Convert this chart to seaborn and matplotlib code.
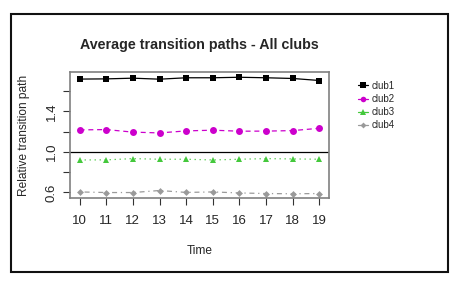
import matplotlib
matplotlib.use("Agg")
import matplotlib.pyplot as plt
import numpy as np
import pandas as pd
import seaborn as sns
from matplotlib.patches import Rectangle

time = [10, 11, 12, 13, 14, 15, 16, 17, 18, 19]
club1 = [1.720, 1.722, 1.729, 1.719, 1.733, 1.733, 1.738, 1.733, 1.726, 1.706]
club2 = [1.218, 1.221, 1.196, 1.188, 1.208, 1.215, 1.205, 1.206, 1.211, 1.234]
club3 = [0.921, 0.922, 0.934, 0.928, 0.928, 0.921, 0.928, 0.934, 0.931, 0.928]
club4 = [0.605, 0.599, 0.599, 0.619, 0.600, 0.605, 0.595, 0.589, 0.587, 0.589]
clubs = ["club1", "club2", "club3", "club4"]

df = pd.DataFrame({
    "Time": time * 4,
    "value": club1 + club2 + club3 + club4,
    "club": np.repeat(clubs, len(time)),
})

sns.set_style("white")
plt.rcParams["font.family"] = ["Liberation Sans", "DejaVu Sans"]

palette = {"club1": "#000000", "club2": "#CC00CC", "club3": "#44C83C", "club4": "#9A9A9A"}
markers = {"club1": "s", "club2": "o", "club3": "^", "club4": "D"}
dashes = {"club1": "", "club2": (4, 3), "club3": (1, 3), "club4": (1, 3, 4, 3)}

fig = plt.figure(figsize=(4.6, 2.82), dpi=100)
fig.patches.append(Rectangle((11 / 460, 1 - 272 / 282), 437 / 460, 258 / 282,
                             transform=fig.transFigure, fill=False,
                             edgecolor="#111111", linewidth=1.5))
ax = fig.add_axes([70 / 460, 1 - 198 / 282, 259 / 460, 126 / 282])

sns.lineplot(data=df, x="Time", y="value", hue="club", style="club",
             palette=palette, markers=markers, dashes=dashes, ax=ax,
             linewidth=0.9, markersize=5, markeredgewidth=0, legend=False)
# club4 markers are smaller
ax.lines[3].set_markersize(3.5)

ax.axhline(1.0, color="black", linewidth=0.9)

ax.set_xlim(9.64, 19.36)
ax.set_ylim(0.545, 1.79)
ax.set_xticks(time)
ax.set_xticklabels([str(t) for t in time], fontsize=9.5)
ax.set_yticks([0.6, 1.0, 1.4])
ax.set_yticklabels(["0.6", "1.0", "1.4"], fontsize=9.5, rotation=90, va="center")
ax.set_yticks([0.8, 1.2, 1.6], minor=True)
ax.tick_params(which="both", direction="out", length=5, width=0.8, color="#333333",
               left=True, bottom=True)
ax.tick_params(axis="x", pad=7)
ax.tick_params(axis="y", pad=4)
for s in ax.spines.values():
    s.set_color("#808080")
    s.set_linewidth(1.2)

ax.set_xlabel("Time", fontsize=8.6, labelpad=13.5)
ax.set_ylabel("Relative transition path", fontsize=8.6)
ax.yaxis.set_label_coords(-0.156, 0.5)
ax.set_title("Average transition paths - All clubs", fontsize=10.3, fontweight="bold", pad=16.5)

handles = [plt.Line2D([], [], color=palette[c], marker=markers[c], linewidth=0.9,
                      markersize=4 if c != "club4" else 3, markeredgewidth=0)
           for c in clubs]
fig.legend(handles, clubs, loc="upper left", bbox_to_anchor=(353 / 460, 1 - 76 / 282),
           frameon=False, fontsize=7, handlelength=1.0, handletextpad=0.4,
           labelspacing=0.33, borderpad=0)

fig.savefig("out.png", dpi=100)
